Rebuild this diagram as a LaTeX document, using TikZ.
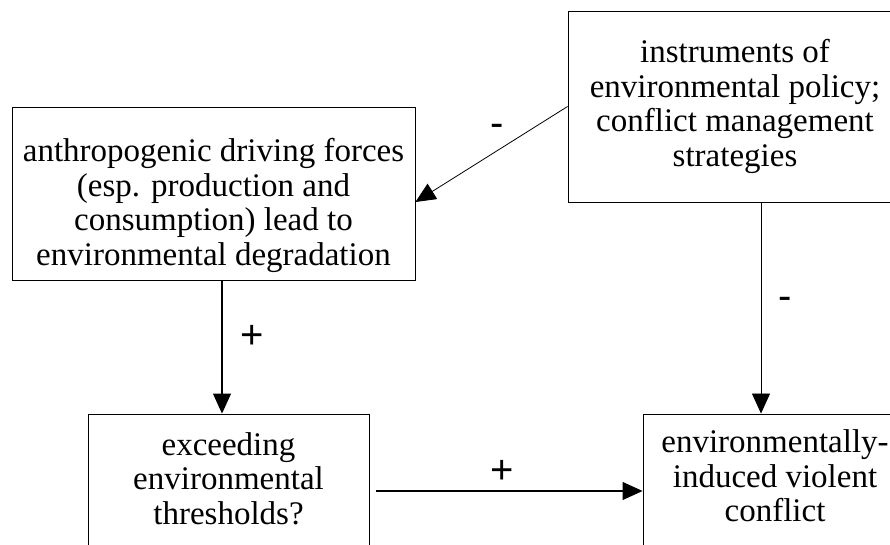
\documentclass[tikz,border=0pt]{standalone}
\usepackage{fontspec}
\setmainfont{Liberation Serif}
\newfontfamily\signfont{Liberation Sans}
\usetikzlibrary{arrows.meta}
\tikzset{
  box/.style={draw=black, line width=0.9pt, rectangle, align=center, inner sep=0pt,
    font=\fontsize{33}{34.5}\selectfont},
  conn/.style={-{Triangle[length=20pt,width=18pt]}, line width=1.1pt},
  thinconn/.style={-{Triangle[length=20pt,width=18pt]}, line width=0.8pt},
  sign/.style={font=\signfont\fontsize{40}{40}\selectfont, inner sep=0pt}
}
\begin{document}
\begin{tikzpicture}[x=1pt,y=-1pt]
\useasboundingbox (0,0) rectangle (890,545);
\clip (0,0) rectangle (890,545);
\fill[white] (0,0) rectangle (890,545);
\node[box, minimum width=334pt, minimum height=191pt] (A) at (735,106.5)
  {instruments of\\environmental policy;\\conflict management\\strategies};
\node[box, minimum width=403pt, minimum height=173pt] (B) at (213.5,193.5)
  {\rule{0pt}{47pt}anthropogenic driving forces\\(esp. production and\\consumption) lead to\\environmental degradation};
\node[box, minimum width=281pt, minimum height=138pt] (C) at (228.5,483)
  {exceeding\\environmental\\thresholds?\rule[-9pt]{0pt}{9pt}};
\node[box, minimum width=264pt, minimum height=138pt] (D) at (775,483)
  {environmentally-\\induced violent\\conflict\rule[-14pt]{0pt}{14pt}};
\draw[thinconn] (A.west) -- ([yshift=-8.5pt]B.east);
\coordinate (b1) at ([xshift=8.5pt]B.south);
\draw[conn] (b1) -- (b1 |- C.north);
\coordinate (a1) at ([xshift=26pt]A.south);
\draw[thinconn] (a1) -- (a1 |- D.north);
\draw[conn] ([xshift=7pt,yshift=-8pt]C.east) -- ([yshift=-8pt]D.west);
\node[sign] (s1) at (497,130) {-};
\node[sign] (s2) at (785,303) {-};
\node[sign] (s3) at (252,337) {+};
\node[sign] (s4) at (502,472) {+};
\end{tikzpicture}
\end{document}
